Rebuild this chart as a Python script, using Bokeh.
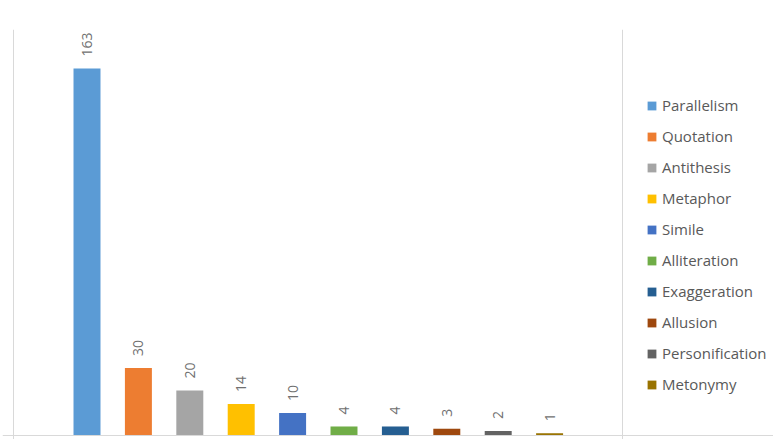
import math
from bokeh.plotting import figure
from bokeh.models import Range1d, Span, Legend, LegendItem, ColumnDataSource
from bokeh.core.properties import value
from bokeh.embed import file_html
from bokeh.resources import INLINE

categories = ["Parallelism", "Quotation", "Antithesis", "Metaphor", "Simile",
              "Alliteration", "Exaggeration", "Allusion", "Personification", "Metonymy"]
counts = [163, 30, 20, 14, 10, 4, 4, 3, 2, 1]
colors = ["#5B9BD5", "#ED7D31", "#A5A5A5", "#FFC000", "#4472C4",
          "#70AD47", "#255E91", "#9E480E", "#636363", "#997300"]

positions = list(range(len(categories)))
source = ColumnDataSource(dict(x=positions, top=counts, color=colors,
                               label=[str(c) for c in counts], name=categories))

p = figure(width=773, height=439, output_backend="svg", toolbar_location=None,
           x_range=Range1d(-1.644, 13.356), y_range=Range1d(-1.78, 180.3),
           min_border_left=2, min_border_right=0, min_border_top=29, min_border_bottom=0)
p.axis.visible = False
p.grid.visible = False
p.outline_line_color = None
p.background_fill_color = "white"
p.border_fill_color = "white"

border_color = "#D9D9D9"
p.add_layout(Span(location=-1.43, dimension="height", line_color=border_color, line_width=1))
p.add_layout(Span(location=10.418, dimension="height", line_color=border_color, line_width=1))
p.add_layout(Span(location=0, dimension="width", line_color=border_color, line_width=1))

bars = p.vbar(x="x", top="top", bottom=0, width=0.525, fill_color="color",
              line_color=None, source=source)

p.text(x="x", y="top", text="label", source=source, angle=math.pi / 2,
       text_align="left", text_baseline="middle", y_offset=-12,
       text_font=value("Open Sans"), text_font_size="14px", text_color="#707070")

items = [LegendItem(label=name, renderers=[bars], index=i) for i, name in enumerate(categories)]
legend = Legend(items=items, location=(644, 45), orientation="vertical",
                glyph_width=11, glyph_height=11, label_standoff=5,
                label_text_font="Open Sans", label_text_font_size="15px",
                label_text_color="#595959", label_height=20, spacing=11,
                padding=0, margin=0, border_line_color=None,
                background_fill_alpha=0)
p.add_layout(legend)

open("out.html", "w").write(file_html(p, INLINE))
